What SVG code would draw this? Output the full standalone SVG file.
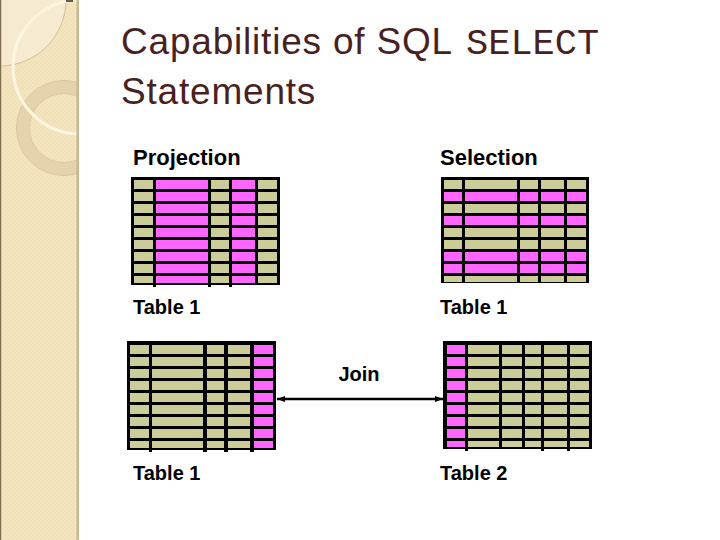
<svg xmlns="http://www.w3.org/2000/svg" width="720" height="540" viewBox="0 0 720 540">
<style>
.title{font-family:"Liberation Sans",Arial,sans-serif;font-size:37px;letter-spacing:0.8px;fill:#4a1f1f}
.mono{font-family:"Liberation Mono","Courier New",monospace;font-size:37px;fill:#4a1f1f}
.lbl{font-family:"Liberation Sans",Arial,sans-serif;font-weight:bold;font-size:20px;fill:#000}
.lbl2{font-family:"Liberation Sans",Arial,sans-serif;font-weight:bold;font-size:22px;fill:#000}
.k{fill:url(#rk)}
.p{fill:url(#rp)}
</style>
<defs>
<pattern id="tex" width="4" height="4" patternUnits="userSpaceOnUse">
<rect width="4" height="4" fill="#f1e0b7"/>
<rect width="2" height="2" fill="#f4e5c1"/>
<rect x="2" y="2" width="2" height="2" fill="#f4e5c1"/>
</pattern>
<pattern id="rk" width="10" height="12" patternUnits="userSpaceOnUse" y="3">
<rect width="10" height="9" fill="#cccc99"/>
</pattern>
<pattern id="rp" width="10" height="12" patternUnits="userSpaceOnUse" y="3">
<rect width="10" height="9" fill="#ff66ff"/>
</pattern>
<pattern id="rk4" width="10" height="12" patternUnits="userSpaceOnUse" y="4">
<rect width="10" height="9" fill="#cccc99"/>
</pattern>
<pattern id="rp4" width="10" height="12" patternUnits="userSpaceOnUse" y="4">
<rect width="10" height="9" fill="#ff66ff"/>
</pattern>
<clipPath id="panelClip"><rect x="0" y="0" width="78" height="540"/></clipPath>
<marker id="ah" markerWidth="8" markerHeight="6" refX="8" refY="3" orient="auto-start-reverse" markerUnits="userSpaceOnUse">
<path d="M0,0 L8,3 L0,6 z" fill="#000"/>
</marker>
</defs>

<rect width="720" height="540" fill="#ffffff"/>

<g id="side-panel">
<rect x="0" y="0" width="78" height="540" fill="url(#tex)"/>
<g clip-path="url(#panelClip)">
<circle cx="0" cy="0" r="66" fill="#f6ead0" stroke="#c9b58e" stroke-width="0.8"/>
<circle cx="64" cy="128" r="41" fill="none" stroke="#e5d3ad" stroke-width="13"/>
<circle cx="64" cy="128" r="47.5" fill="none" stroke="#d6c39c" stroke-width="0.8"/>
<circle cx="64" cy="128" r="34.5" fill="none" stroke="#d6c39c" stroke-width="0.8"/>
<circle cx="80" cy="67" r="67" fill="none" stroke="#fdf6e0" stroke-width="3"/>
</g>
<rect x="0" y="0" width="1.2" height="540" fill="#7d6c4d"/>
<rect x="76.5" y="0" width="2.5" height="540" fill="#c8b894"/>
<rect x="66" y="0" width="7" height="2" fill="#6b5a3e"/>
</g>

<g id="title">
<text class="title" x="121" y="54">Capabilities of SQL</text>
<text class="mono" x="466" y="54">SELECT</text>
<text class="title" x="121" y="104">Statements</text>
</g>

<g id="projection-table" transform="translate(131,177)">
<rect width="149" height="108" fill="#000"/>
<rect class="k" x="3" y="3" width="143" height="103"/>
<rect class="p" x="25" y="3" width="52" height="103"/>
<rect class="p" x="101" y="3" width="23" height="103"/>
<rect x="22" y="0" width="3" height="110" fill="#000"/>
<rect x="77" y="0" width="3" height="110" fill="#000"/>
<rect x="98" y="0" width="3" height="110" fill="#000"/>
<rect x="124" y="0" width="3" height="108" fill="#000"/>
</g>

<g id="selection-table" transform="translate(441,177)">
<rect width="148" height="106" fill="#000"/>
<rect class="k" x="3" y="3" width="142" height="102"/>
<rect x="3" y="15" width="142" height="9" fill="#ff66ff"/>
<rect x="3" y="39" width="142" height="9" fill="#ff66ff"/>
<rect x="3" y="75" width="142" height="9" fill="#ff66ff"/>
<rect x="3" y="87" width="142" height="9" fill="#ff66ff"/>
<rect x="21" y="0" width="3" height="106" fill="#000"/>
<rect x="76" y="0" width="3" height="106" fill="#000"/>
<rect x="97" y="0" width="3" height="106" fill="#000"/>
<rect x="123" y="0" width="3" height="106" fill="#000"/>
</g>

<g id="join-table-1" transform="translate(127,341)">
<rect width="149" height="109" fill="#000"/>
<rect x="3" y="4" width="143" height="103" fill="url(#rk4)"/>
<rect x="127" y="4" width="19" height="103" fill="url(#rp4)"/>
<rect x="22" y="0" width="3" height="111" fill="#000"/>
<rect x="76" y="0" width="4" height="111" fill="#000"/>
<rect x="97" y="0" width="4" height="111" fill="#000"/>
<rect x="123" y="0" width="4" height="111" fill="#000"/>
</g>

<g id="join-table-2" transform="translate(443,341)">
<rect width="149" height="108" fill="#000"/>
<rect x="4" y="4" width="142" height="102" fill="url(#rk4)"/>
<rect x="4" y="4" width="18" height="102" fill="url(#rp4)"/>
<rect x="22" y="0" width="3" height="110" fill="#000"/>
<rect x="56" y="0" width="3" height="108" fill="#000"/>
<rect x="79" y="0" width="3" height="108" fill="#000"/>
<rect x="98" y="0" width="3" height="110" fill="#000"/>
<rect x="124" y="0" width="3" height="110" fill="#000"/>
</g>

<g id="labels">
<text class="lbl2" x="133" y="165">Projection</text>
<text class="lbl2" x="440" y="165">Selection</text>
<text class="lbl" x="133" y="314">Table 1</text>
<text class="lbl" x="440" y="314">Table 1</text>
<text class="lbl" x="359" y="381" text-anchor="middle">Join</text>
<text class="lbl" x="133" y="480">Table 1</text>
<text class="lbl" x="440" y="480">Table 2</text>
</g>

<g id="connectors">
<line x1="277" y1="399" x2="443" y2="399" stroke="#000" stroke-width="2.5" marker-start="url(#ah)" marker-end="url(#ah)"/>
</g>
</svg>
